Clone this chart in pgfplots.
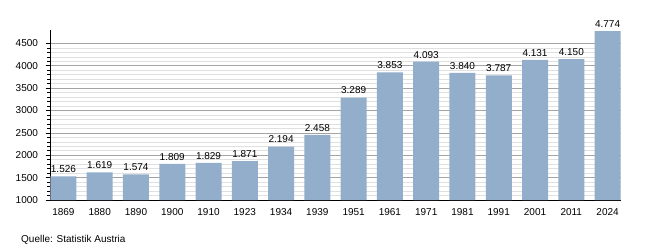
\documentclass[border=0pt]{standalone}
\usepackage{pgfplots}
\pgfplotsset{compat=1.18}
\usepackage{fontspec}
\setmainfont{Liberation Sans}
\definecolor{barblue}{HTML}{93AECB}
\definecolor{majgrid}{HTML}{A4A4A4}
\definecolor{mingrid}{HTML}{E0E0E0}
\begin{document}
\begin{tikzpicture}[x=1pt,y=1pt]
\path[use as bounding box] (0,0) rectangle (650,250);
\begin{axis}[
  at={(50pt,50pt)}, anchor=south west,
  scale only axis, width=571pt, height=170pt,
  xmin=-0.37, xmax=15.37,
  ymin=1000, ymax=4800,
  axis lines=left,
  axis line style={-, black, line width=0.8pt},
  ytick={1000,1500,...,4500},
  minor y tick num=4,
  ymajorgrids, yminorgrids,
  major grid style={majgrid, line width=0.7pt},
  minor grid style={mingrid, line width=0.6pt},
  tick align=outside,
  ytick pos=left,
  major tick length=4.5pt, minor tick length=3pt,
  tick style={black, line width=0.6pt},
  xtick=data,
  xticklabels={1869,1880,1890,1900,1910,1923,1934,1939,1951,1961,1971,1981,1991,2001,2011,2024},
  x tick style={draw=none},
  ticklabel style={font=\fontsize{10}{12}\selectfont},
  /pgf/number format/assume math mode=true,
  yticklabel style={/pgf/number format/1000 sep={}, xshift=-4pt},
  xticklabel style={yshift=0pt},
  ybar, bar width=26pt,
  nodes near coords={\pgfmathprintnumber[1000 sep={.},assume math mode=true]{\pgfplotspointmeta}},
  nodes near coords style={font=\fontsize{10}{12}\selectfont, black, yshift=0pt},
  clip=false,
]
\addplot[fill=barblue, draw=none] coordinates {
(0,1526) (1,1619) (2,1574) (3,1809) (4,1829) (5,1871) (6,2194) (7,2458)
(8,3289) (9,3853) (10,4093) (11,3840) (12,3787) (13,4131) (14,4150) (15,4774)
};
\end{axis}
\node[anchor=base west, font=\fontsize{10}{12}\selectfont, inner sep=0pt] at (21,7.5) {Quelle: Statistik Austria};
\end{tikzpicture}
\end{document}
